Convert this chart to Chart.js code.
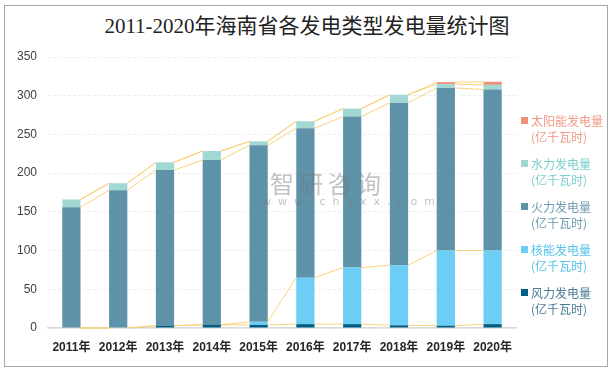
<!DOCTYPE html>
<html lang="zh">
<head>
    <meta charset="UTF-8">
    <title>2011-2020年海南省各发电类型发电量统计图</title>
    <script src="https://cdn.jsdelivr.net/npm/chart.js"></script>
    <style>
        html, body { margin: 0; padding: 0; background: #fff; }
        .frame { position: relative; width: 614px; height: 373px; overflow: hidden; }
        .border { position: absolute; left: 4px; top: 5px; width: 604px; height: 362px; border: 1px solid #a6a6a6; box-sizing: border-box; }
        .title { position: absolute; left: 0; top: 9px; width: 614px; text-align: center;
                 font-family: "Liberation Serif", "Noto Sans CJK SC", serif; font-size: 21px; color: #222; }
        .mark { position: absolute; left: 270px; top: 165px; font-family: "Noto Sans CJK SC", sans-serif;
                font-size: 24px; color: rgba(120,120,120,0.45); letter-spacing: 5px; }
        .mark2 { position: absolute; left: 262px; top: 195px; font-family: "DejaVu Sans", sans-serif;
                 font-size: 11px; color: rgba(120,120,120,0.45); letter-spacing: 7px; }
        .legend { position: absolute; left: 521px; top: 113px; font-family: "Noto Sans CJK SC", sans-serif; font-size: 12px; }
        .item { position: relative; height: 43px; padding-left: 10px; line-height: 16px; }
        .item i { position: absolute; left: 0; top: 4px; width: 7px; height: 7px; }
        canvas { position: absolute; left: 0; top: 0; }
    </style>
</head>
<body>
<div class="frame">
    <div class="border"></div>
    <div class="title">2011-2020年海南省各发电类型发电量统计图</div>
    <canvas id="myChart" width="614" height="373"></canvas>
    <div class="mark">智研咨询</div>
    <div class="mark2">www.chyxx.com</div>
    <div class="legend" id="legend"></div>
</div>

<script>
    // data (亿千瓦时)
    const years = ['2011年', '2012年', '2013年', '2014年', '2015年', '2016年', '2017年', '2018年', '2019年', '2020年'];
    const wind    = [0, 0, 3, 4, 4, 5, 5, 3.5, 3, 5];
    const nuclear = [0, 0, 0, 0, 4, 60, 73, 77.5, 97, 95];
    const thermal = [156, 178, 201, 213, 228, 193, 195, 210, 210, 208];
    const hydro   = [10, 9, 10, 11.6, 5, 9, 10.4, 10.3, 5, 6];
    const solar   = [0, 0, 0, 0, 0, 0, 0, 0, 2.5, 4];
    const yTicks  = [0, 50, 100, 150, 200, 250, 300, 350];

    const series = [
        { label: '风力发电量', data: wind, color: '#005f85', text: '#4a7c98' },
        { label: '核能发电量', data: nuclear, color: '#6ccdf5', text: '#55c2ec' },
        { label: '火力发电量', data: thermal, color: '#5e92a8', text: '#6f9cb1' },
        { label: '水力发电量', data: hydro, color: '#a2d8d4', text: '#7ccfcc' },
        { label: '太阳能发电量', data: solar, color: '#f0907a', text: '#f09a86' }
    ];

    // legend, top item is the last series
    const legend = document.getElementById('legend');
    series.slice().reverse().forEach(s => {
        const d = document.createElement('div');
        d.className = 'item';
        d.style.color = s.text;
        d.innerHTML = '<i style="background:' + s.color + '"></i>' + s.label + '<br>(亿千瓦时)';
        legend.appendChild(d);
    });

    // Excel style series lines between the bars
    const seriesLines = {
        id: 'seriesLines',
        afterDatasetsDraw(chart) {
            const c = chart.ctx;
            c.save();
            c.strokeStyle = 'rgba(250, 205, 110, 0.9)';
            c.lineWidth = 1;
            chart.data.datasets.forEach((ds, i) => {
                const bars = chart.getDatasetMeta(i).data;
                for (let j = 0; j < bars.length - 1; j++) {
                    const a = bars[j], b = bars[j + 1];
                    c.beginPath();
                    c.moveTo(a.x + a.width / 2, a.y);
                    c.lineTo(b.x - b.width / 2, b.y);
                    c.stroke();
                }
            });
            c.restore();
        }
    };

    const ctx = document.getElementById('myChart').getContext('2d');
    const myChart = new Chart(ctx, {
        type: 'bar',
        data: {
            labels: years,
            datasets: series.map(s => ({
                label: s.label,
                data: s.data,
                backgroundColor: s.color,
                borderWidth: 0,
                categoryPercentage: 1,
                barPercentage: 0.39
            }))
        },
        options: {
            responsive: false,
            animation: false,
            layout: { padding: { left: 0, right: 98, top: 57, bottom: 0 } },
            plugins: {
                legend: { display: false },
                tooltip: { enabled: false }
            },
            scales: {
                x: {
                    stacked: true,
                    grid: { display: false, drawTicks: false },
                    border: { color: '#d9d9d9', width: 1.5 },
                    ticks: { padding: 12, color: '#262626', font: { family: 'Liberation Sans, Noto Sans CJK SC', size: 12, weight: 'bold' } },
                    afterFit(scale) { scale.height = 45; }
                },
                y: {
                    stacked: true,
                    min: 0,
                    max: 350,
                    afterBuildTicks(scale) { scale.ticks = yTicks.map(v => ({ value: v })); },
                    grid: { color: '#ececec', drawTicks: false },
                    border: { display: false, dash: [3, 2] },
                    ticks: { padding: 11, color: '#404040', font: { family: 'Liberation Sans', size: 12 } },
                    afterFit(scale) { scale.width = 48; }
                }
            }
        },
        plugins: [seriesLines]
    });
</script>
</body>
</html>
